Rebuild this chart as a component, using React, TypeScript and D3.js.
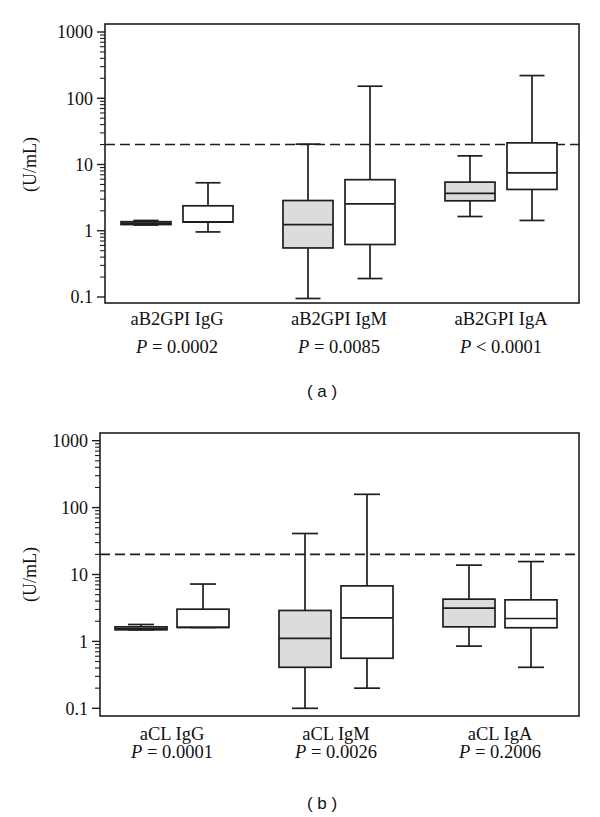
import React from "react";
import * as d3 from "d3";

// ---- Data ----
const categoriesA = ["aB2GPI IgG", "aB2GPI IgM", "aB2GPI IgA"];
const pLabelsA = [["=", "0.0002"], ["=", "0.0085"], ["<", "0.0001"]];
const categoriesB = ["aCL IgG", "aCL IgM", "aCL IgA"];
const pLabelsB = [["=", "0.0001"], ["=", "0.0026"], ["=", "0.2006"]];
const seriesNames = ["grey", "white"];

// [whiskerLow, q1, median, q3, whiskerHigh]
const greyA = [
  [1.22, 1.24, 1.3, 1.37, 1.43],
  [0.095, 0.55, 1.24, 2.86, 20.3],
  [1.64, 2.83, 3.66, 5.42, 13.5],
];
const whiteA = [
  [0.96, 1.35, 1.36, 2.38, 5.3],
  [0.19, 0.62, 2.55, 5.9, 152],
  [1.43, 4.2, 7.5, 21.2, 220],
];
const greyB = [
  [1.49, 1.49, 1.55, 1.65, 1.79],
  [0.1, 0.41, 1.11, 2.9, 41],
  [0.85, 1.65, 3.14, 4.28, 13.8],
];
const whiteB = [
  [1.62, 1.62, 1.62, 3.03, 7.2],
  [0.2, 0.56, 2.25, 6.76, 158],
  [0.41, 1.6, 2.2, 4.18, 15.6],
];
const cutoff = 20;
const majorTicks = [0.1, 1, 10, 100, 1000];
const tickLabels = ["0.1", "1", "10", "100", "1000"];

const INK = "#1e1e1e";
const GREY = "#dcdcdc";
const SERIF = "'Liberation Serif', 'Times New Roman', serif";
const SANS = "'Liberation Sans', Arial, sans-serif";

type PanelProps = {
  frame: { x0: number; x1: number; y0: number; y1: number };
  yRange: [number, number];
  bandRange: [number, number];
  boxW: number;
  categories: string[];
  pLabels: string[][];
  grey: number[][];
  white: number[][];
  labelY: [number, number];
  caption: string;
  captionY: number;
};

function Panel(p: PanelProps) {
  const y = d3.scaleLog().domain([0.1, 1000]).range(p.yRange);
  const x = d3.scaleBand<string>().domain(p.categories).range(p.bandRange).padding(0);
  const sub = d3.scalePoint<string>().domain(seriesNames).range([-31, 31]);
  const minor = y.ticks().filter((t) => !majorTicks.some((m) => Math.abs(m - t) < 1e-9));
  const { x0, x1, y0, y1 } = p.frame;
  const half = p.boxW / 2;

  const boxes: JSX.Element[] = [];
  p.categories.forEach((c, i) => {
    [p.grey[i], p.white[i]].forEach((s, j) => {
      const cx = (x(c) as number) + x.bandwidth() / 2 + (sub(seriesNames[j]) as number);
      const [lo, q1, med, q3, hi] = s;
      boxes.push(
        <g key={c + j} stroke={INK} strokeWidth={1.7}>
          <line x1={cx} x2={cx} y1={y(hi)} y2={y(q3)} />
          <line x1={cx} x2={cx} y1={y(q1)} y2={y(lo)} />
          <line x1={cx - half / 2} x2={cx + half / 2} y1={y(hi)} y2={y(hi)} />
          <line x1={cx - half / 2} x2={cx + half / 2} y1={y(lo)} y2={y(lo)} />
          <rect
            x={cx - half}
            width={p.boxW}
            y={y(q3)}
            height={Math.max(0, y(q1) - y(q3))}
            fill={j === 0 ? GREY : "#fff"}
          />
          <line x1={cx - half} x2={cx + half} y1={y(med)} y2={y(med)} />
        </g>
      );
    });
  });

  return (
    <g>
      <line
        x1={x0}
        x2={x1}
        y1={y(cutoff)}
        y2={y(cutoff)}
        stroke={INK}
        strokeWidth={1.6}
        strokeDasharray="10,5"
      />
      {boxes}
      <rect x={x0} y={y0} width={x1 - x0} height={y1 - y0} fill="none" stroke={INK} strokeWidth={1.6} />
      {majorTicks.map((t, i) => (
        <g key={"M" + t}>
          <line x1={x0 - 8} x2={x0} y1={y(t)} y2={y(t)} stroke={INK} strokeWidth={1.4} />
          <text
            x={x0 - 12}
            y={y(t)}
            dy="0.35em"
            textAnchor="end"
            fontFamily={SERIF}
            fontSize={18}
            fill="#111"
          >
            {tickLabels[i]}
          </text>
        </g>
      ))}
      {minor.map((t) => (
        <line key={"m" + t} x1={x0 - 5} x2={x0} y1={y(t)} y2={y(t)} stroke={INK} strokeWidth={1.1} />
      ))}
      <text
        transform={`translate(30,${y(10)}) rotate(-90)`}
        textAnchor="middle"
        dy="0.35em"
        fontFamily={SERIF}
        fontSize={18}
        fill="#111"
      >
        (U/mL)
      </text>
      {p.categories.map((c, i) => {
        const cx = (x(c) as number) + x.bandwidth() / 2;
        return (
          <g key={"l" + c} fontFamily={SERIF} fontSize={18.5} fill="#111" textAnchor="middle">
            <text x={cx} y={p.labelY[0]}>{c}</text>
            <text x={cx} y={p.labelY[1]} xmlSpace="preserve">
              <tspan fontStyle="italic">P</tspan>
              {` ${p.pLabels[i][0]} ${p.pLabels[i][1]}`}
            </text>
          </g>
        );
      })}
      <text x={322} y={p.captionY} textAnchor="middle" fontFamily={SANS} fontSize={17} fill="#111" xmlSpace="preserve">
        {p.caption}
      </text>
    </g>
  );
}

export default function App() {
  return (
    <svg
      width={600}
      height={817}
      style={{ position: "absolute", left: 0, top: 0, background: "#fff" }}
    >
      <rect width={600} height={817} fill="#fff" />
      <Panel
        frame={{ x0: 105, x1: 579, y0: 24, y1: 303 }}
        yRange={[297, 32]}
        bandRange={[96, 582]}
        boxW={50}
        categories={categoriesA}
        pLabels={pLabelsA}
        grey={greyA}
        white={whiteA}
        labelY={[325, 353]}
        caption="( a )"
        captionY={397}
      />
      <Panel
        frame={{ x0: 100, x1: 579, y0: 433, y1: 716 }}
        yRange={[708.3, 440.7]}
        bandRange={[90, 582]}
        boxW={52}
        categories={categoriesB}
        pLabels={pLabelsB}
        grey={greyB}
        white={whiteB}
        labelY={[740, 758]}
        caption="( b )"
        captionY={809}
      />
    </svg>
  );
}
